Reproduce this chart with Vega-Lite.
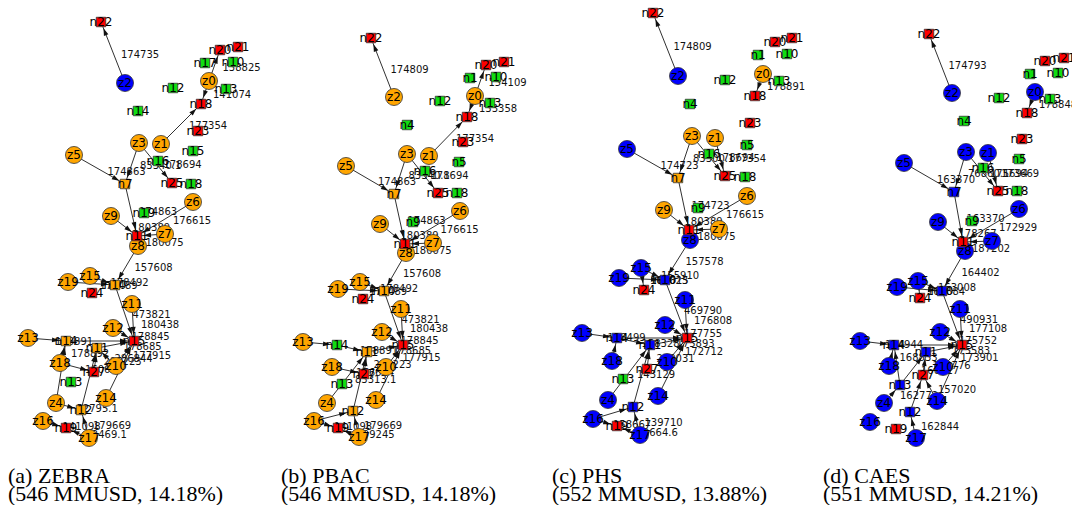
{
"$schema": "https://vega.github.io/schema/vega-lite/v6.json",
"padding": 0,
"spacing": 0,
"bounds": "flush",
"resolve": {"scale": {"x": "independent", "y": "independent"}},
"config": {
  "view": {"stroke": null},
  "axis": {"disable": true},
  "title": {"orient": "bottom", "anchor": "start", "font": "Liberation Serif", "fontSize": 22, "fontWeight": "normal", "color": "black", "subtitleFont": "Liberation Serif", "subtitleFontSize": 22, "subtitleColor": "black", "subtitlePadding": -4, "offset": 11}
},
"datasets": {
"na": [
{"id":"z2","x":125,"y":83,"k":"z","c":"b","t":"z2"},
{"id":"z0","x":209,"y":81,"k":"z","c":"o","t":"z0"},
{"id":"z3","x":139,"y":143,"k":"z","c":"o","t":"z3"},
{"id":"z1","x":161,"y":144,"k":"z","c":"o","t":"z1"},
{"id":"z5","x":74,"y":155,"k":"z","c":"o","t":"z5"},
{"id":"z6","x":193,"y":202,"k":"z","c":"o","t":"z6"},
{"id":"z9","x":111,"y":216,"k":"z","c":"o","t":"z9"},
{"id":"z7","x":165,"y":234,"k":"z","c":"o","t":"z7"},
{"id":"z8","x":138,"y":246,"k":"z","c":"o","t":"z8"},
{"id":"z15","x":90,"y":276,"k":"z","c":"o","t":"z15"},
{"id":"z19","x":68,"y":282,"k":"z","c":"o","t":"z19"},
{"id":"z11","x":132,"y":304,"k":"z","c":"o","t":"z11"},
{"id":"z12","x":113,"y":328,"k":"z","c":"o","t":"z12"},
{"id":"z13","x":28,"y":338,"k":"z","c":"o","t":"z13"},
{"id":"z18","x":60,"y":363,"k":"z","c":"o","t":"z18"},
{"id":"z10","x":116,"y":366,"k":"z","c":"o","t":"z10"},
{"id":"z14","x":106,"y":398,"k":"z","c":"o","t":"z14"},
{"id":"z4","x":56,"y":403,"k":"z","c":"o","t":"z4"},
{"id":"z16","x":43,"y":421,"k":"z","c":"o","t":"z16"},
{"id":"z17","x":89,"y":438,"k":"z","c":"o","t":"z17"},
{"id":"n22","x":101,"y":22,"k":"n","c":"r","t":"n22"},
{"id":"n20","x":220,"y":50,"k":"n","c":"r","t":"n20"},
{"id":"n21","x":238,"y":47,"k":"n","c":"r","t":"n21"},
{"id":"g1","x":205,"y":63,"k":"n","c":"g","t":"n17"},
{"id":"g10","x":233,"y":62,"k":"n","c":"g","t":"n10"},
{"id":"g13","x":226,"y":89,"k":"n","c":"g","t":"n13"},
{"id":"g12","x":173,"y":88,"k":"n","c":"g","t":"n12"},
{"id":"n18","x":201,"y":104,"k":"n","c":"r","t":"n18"},
{"id":"g4","x":138,"y":111,"k":"n","c":"g","t":"n14"},
{"id":"n23","x":198,"y":131,"k":"n","c":"r","t":"n23"},
{"id":"g5","x":193,"y":151,"k":"n","c":"g","t":"n15"},
{"id":"g16","x":158,"y":161,"k":"n","c":"g","t":"n16"},
{"id":"n7","x":125,"y":184,"k":"n","c":"o","t":"n7"},
{"id":"n25","x":172,"y":183,"k":"n","c":"r","t":"n25"},
{"id":"g8","x":191,"y":184,"k":"n","c":"g","t":"n18"},
{"id":"g9","x":144,"y":213,"k":"n","c":"g","t":"n19"},
{"id":"n6","x":137,"y":236,"k":"n","c":"r","t":"n11"},
{"id":"b10","x":115,"y":285,"k":"n","c":"o","t":"n10"},
{"id":"n24","x":92,"y":293,"k":"n","c":"r","t":"n24"},
{"id":"n5","x":134,"y":341,"k":"n","c":"r","t":"n15"},
{"id":"b14","x":66,"y":341,"k":"n","c":"o","t":"n14"},
{"id":"b1","x":97,"y":348,"k":"n","c":"o","t":"n11"},
{"id":"n27","x":94,"y":372,"k":"n","c":"r","t":"n27"},
{"id":"g3","x":71,"y":382,"k":"n","c":"g","t":"n13"},
{"id":"b2","x":81,"y":410,"k":"n","c":"o","t":"n12"},
{"id":"n9","x":66,"y":428,"k":"n","c":"r","t":"n19"}
],
"ea": [
{"s":"z2","t":"n22","w":"174735"},
{"s":"z0","t":"n20","w":"138825"},
{"s":"z0","t":"n18","w":"141074"},
{"s":"z1","t":"n18","w":"177354"},
{"s":"z5","t":"n7","w":"174863"},
{"s":"z3","t":"n7","w":"83340.1"},
{"s":"z3","t":"n25","w":"178694"},
{"s":"n7","t":"n6","w":"174863"},
{"s":"z9","t":"n6","w":"180389"},
{"s":"z6","t":"n6","w":"176615"},
{"s":"z7","t":"n6","w":""},
{"s":"z8","t":"n6","w":"180075"},
{"s":"z8","t":"b10","w":"157608"},
{"s":"z15","t":"b10","w":"178492"},
{"s":"z19","t":"b10","w":"178489"},
{"s":"b10","t":"n5","w":"473821"},
{"s":"z11","t":"n5","w":"180438"},
{"s":"z12","t":"n5","w":"178845"},
{"s":"b14","t":"n5","w":""},
{"s":"b1","t":"n5","w":"178685"},
{"s":"z10","t":"n5","w":"177915"},
{"s":"z14","t":"n5","w":""},
{"s":"z13","t":"b14","w":"178891"},
{"s":"z18","t":"b14","w":"178892"},
{"s":"z4","t":"b14","w":""},
{"s":"z18","t":"n27","w":"160637"},
{"s":"n27","t":"b1","w":"285223"},
{"s":"z10","t":"b1","w":"286844"},
{"s":"b2","t":"b1","w":""},
{"s":"z4","t":"b2","w":"52795.1"},
{"s":"z17","t":"b2","w":"179669"},
{"s":"z16","t":"n9","w":"141098"},
{"s":"z17","t":"n9","w":"72469.1"}
],
"nb": [
{"id":"z2","x":394,"y":97,"k":"z","c":"o","t":"z2"},
{"id":"z0","x":475,"y":96,"k":"z","c":"o","t":"z0"},
{"id":"z3","x":407,"y":154,"k":"z","c":"o","t":"z3"},
{"id":"z1","x":429,"y":156,"k":"z","c":"o","t":"z1"},
{"id":"z5","x":346,"y":166,"k":"z","c":"o","t":"z5"},
{"id":"z6","x":460,"y":211,"k":"z","c":"o","t":"z6"},
{"id":"z9","x":380,"y":224,"k":"z","c":"o","t":"z9"},
{"id":"z7","x":433,"y":243,"k":"z","c":"o","t":"z7"},
{"id":"z8","x":406,"y":253,"k":"z","c":"o","t":"z8"},
{"id":"z15","x":360,"y":282,"k":"z","c":"o","t":"z15"},
{"id":"z19","x":338,"y":289,"k":"z","c":"o","t":"z19"},
{"id":"z11","x":401,"y":309,"k":"z","c":"o","t":"z11"},
{"id":"z12","x":382,"y":332,"k":"z","c":"o","t":"z12"},
{"id":"z13","x":303,"y":342,"k":"z","c":"o","t":"z13"},
{"id":"z18","x":332,"y":367,"k":"z","c":"o","t":"z18"},
{"id":"z10","x":386,"y":367,"k":"z","c":"o","t":"z10"},
{"id":"z14","x":376,"y":400,"k":"z","c":"o","t":"z14"},
{"id":"z4","x":327,"y":403,"k":"z","c":"o","t":"z4"},
{"id":"z16","x":314,"y":421,"k":"z","c":"o","t":"z16"},
{"id":"z17","x":359,"y":437,"k":"z","c":"o","t":"z17"},
{"id":"n22","x":371,"y":38,"k":"n","c":"r","t":"n22"},
{"id":"n20","x":486,"y":65,"k":"n","c":"r","t":"n20"},
{"id":"n21","x":504,"y":62,"k":"n","c":"r","t":"n21"},
{"id":"g1","x":470,"y":78,"k":"n","c":"g","t":"n1"},
{"id":"g10","x":496,"y":77,"k":"n","c":"g","t":"n10"},
{"id":"g13","x":490,"y":103,"k":"n","c":"g","t":"n13"},
{"id":"g12","x":440,"y":101,"k":"n","c":"g","t":"n12"},
{"id":"n18","x":467,"y":117,"k":"n","c":"r","t":"n18"},
{"id":"g4","x":407,"y":125,"k":"n","c":"g","t":"n4"},
{"id":"n23","x":463,"y":142,"k":"n","c":"r","t":"n23"},
{"id":"g5","x":459,"y":162,"k":"n","c":"g","t":"n5"},
{"id":"g16","x":425,"y":171,"k":"n","c":"g","t":"n16"},
{"id":"n7","x":394,"y":194,"k":"n","c":"o","t":"n7"},
{"id":"n25","x":438,"y":193,"k":"n","c":"r","t":"n25"},
{"id":"g8","x":457,"y":193,"k":"n","c":"g","t":"n18"},
{"id":"g9","x":413,"y":222,"k":"n","c":"g","t":"n9"},
{"id":"n6","x":405,"y":244,"k":"n","c":"r","t":"n11"},
{"id":"b10","x":384,"y":291,"k":"n","c":"o","t":"n10"},
{"id":"n24","x":363,"y":299,"k":"n","c":"r","t":"n24"},
{"id":"n5","x":403,"y":345,"k":"n","c":"r","t":"n15"},
{"id":"b14","x":337,"y":345,"k":"n","c":"g","t":"n14"},
{"id":"b1","x":367,"y":352,"k":"n","c":"o","t":"n11"},
{"id":"n27","x":364,"y":374,"k":"n","c":"r","t":"n27"},
{"id":"g3","x":342,"y":384,"k":"n","c":"g","t":"n13"},
{"id":"b2","x":353,"y":411,"k":"n","c":"o","t":"n12"},
{"id":"n9","x":338,"y":428,"k":"n","c":"r","t":"n19"}
],
"eb": [
{"s":"z2","t":"n22","w":"174809"},
{"s":"z0","t":"n20","w":"154109"},
{"s":"z0","t":"n18","w":"133358"},
{"s":"z1","t":"n18","w":"177354"},
{"s":"z5","t":"n7","w":"174863"},
{"s":"z3","t":"n7","w":"83340.1"},
{"s":"z3","t":"n25","w":"178694"},
{"s":"n7","t":"n6","w":"174863"},
{"s":"z9","t":"n6","w":"180389"},
{"s":"z6","t":"n6","w":"176615"},
{"s":"z7","t":"n6","w":""},
{"s":"z8","t":"n6","w":"180075"},
{"s":"z8","t":"b10","w":"157608"},
{"s":"z15","t":"b10","w":"178492"},
{"s":"z19","t":"b10","w":"178489"},
{"s":"b10","t":"n5","w":"473821"},
{"s":"z11","t":"n5","w":"180438"},
{"s":"z12","t":"n5","w":"178845"},
{"s":"b1","t":"n5","w":"178685"},
{"s":"z10","t":"n5","w":"177915"},
{"s":"z14","t":"n5","w":""},
{"s":"z13","t":"b14","w":""},
{"s":"b14","t":"b1","w":"178891"},
{"s":"z18","t":"n27","w":"176624"},
{"s":"n27","t":"b1","w":"285223"},
{"s":"z4","t":"b1","w":"83313.1"},
{"s":"b2","t":"b1","w":""},
{"s":"z16","t":"b2","w":""},
{"s":"z17","t":"b2","w":"179669"},
{"s":"z16","t":"n9","w":"141098"},
{"s":"z17","t":"n9","w":"109245"}
],
"nc": [
{"id":"z2","x":678,"y":76,"k":"z","c":"b","t":"z2"},
{"id":"z0","x":763,"y":74,"k":"z","c":"o","t":"z0"},
{"id":"z3","x":692,"y":136,"k":"z","c":"o","t":"z3"},
{"id":"z1","x":715,"y":138,"k":"z","c":"o","t":"z1"},
{"id":"z5","x":627,"y":149,"k":"z","c":"b","t":"z5"},
{"id":"z6","x":747,"y":196,"k":"z","c":"o","t":"z6"},
{"id":"z9","x":664,"y":210,"k":"z","c":"o","t":"z9"},
{"id":"z7","x":719,"y":229,"k":"z","c":"o","t":"z7"},
{"id":"z8","x":690,"y":240,"k":"z","c":"b","t":"z8"},
{"id":"z15","x":641,"y":268,"k":"z","c":"b","t":"z15"},
{"id":"z19","x":619,"y":278,"k":"z","c":"b","t":"z19"},
{"id":"z11","x":685,"y":300,"k":"z","c":"b","t":"z11"},
{"id":"z12","x":665,"y":325,"k":"z","c":"b","t":"z12"},
{"id":"z13","x":582,"y":333,"k":"z","c":"b","t":"z13"},
{"id":"z18","x":612,"y":361,"k":"z","c":"b","t":"z18"},
{"id":"z10","x":667,"y":362,"k":"z","c":"b","t":"z10"},
{"id":"z14","x":658,"y":396,"k":"z","c":"b","t":"z14"},
{"id":"z4","x":608,"y":400,"k":"z","c":"b","t":"z4"},
{"id":"z16","x":593,"y":419,"k":"z","c":"b","t":"z16"},
{"id":"z17","x":640,"y":435,"k":"z","c":"b","t":"z17"},
{"id":"n22","x":653,"y":13,"k":"n","c":"r","t":"n22"},
{"id":"n20","x":775,"y":42,"k":"n","c":"r","t":"n20"},
{"id":"n21","x":792,"y":38,"k":"n","c":"r","t":"n21"},
{"id":"g1","x":758,"y":55,"k":"n","c":"g","t":"n1"},
{"id":"g10","x":787,"y":54,"k":"n","c":"g","t":"n10"},
{"id":"g13","x":779,"y":81,"k":"n","c":"g","t":"n13"},
{"id":"g12","x":725,"y":80,"k":"n","c":"g","t":"n12"},
{"id":"n18","x":755,"y":96,"k":"n","c":"r","t":"n18"},
{"id":"g4","x":690,"y":104,"k":"n","c":"g","t":"n4"},
{"id":"n23","x":750,"y":123,"k":"n","c":"r","t":"n23"},
{"id":"g5","x":747,"y":145,"k":"n","c":"g","t":"n5"},
{"id":"g16","x":709,"y":154,"k":"n","c":"g","t":"n16"},
{"id":"n7","x":678,"y":178,"k":"n","c":"o","t":"n7"},
{"id":"n25","x":725,"y":176,"k":"n","c":"r","t":"n25"},
{"id":"g8","x":745,"y":177,"k":"n","c":"g","t":"n18"},
{"id":"g9","x":698,"y":208,"k":"n","c":"g","t":"n9"},
{"id":"n6","x":689,"y":230,"k":"n","c":"r","t":"n11"},
{"id":"b10","x":665,"y":280,"k":"n","c":"b","t":"n10"},
{"id":"n24","x":644,"y":290,"k":"n","c":"r","t":"n24"},
{"id":"n5","x":687,"y":338,"k":"n","c":"r","t":"n15"},
{"id":"b14","x":617,"y":338,"k":"n","c":"b","t":"n14"},
{"id":"b1","x":650,"y":345,"k":"n","c":"b","t":"n11"},
{"id":"n27","x":647,"y":369,"k":"n","c":"r","t":"n27"},
{"id":"g3","x":623,"y":379,"k":"n","c":"g","t":"n13"},
{"id":"b2","x":633,"y":407,"k":"n","c":"b","t":"n12"},
{"id":"n9","x":617,"y":426,"k":"n","c":"r","t":"n19"}
],
"ec": [
{"s":"z2","t":"n22","w":"174809"},
{"s":"z0","t":"n18","w":"178891"},
{"s":"z5","t":"n7","w":"174723"},
{"s":"z3","t":"n7","w":"83300.1"},
{"s":"z3","t":"n25","w":"178694"},
{"s":"z1","t":"n25","w":"177354"},
{"s":"n7","t":"n6","w":"174723"},
{"s":"z9","t":"n6","w":"180389"},
{"s":"z6","t":"n6","w":"176615"},
{"s":"z7","t":"n6","w":""},
{"s":"z8","t":"n6","w":"180075"},
{"s":"z8","t":"b10","w":"157578"},
{"s":"z15","t":"b10","w":"155910"},
{"s":"z19","t":"b10","w":"161023"},
{"s":"z15","t":"n24","w":"160615"},
{"s":"b10","t":"n5","w":"469790"},
{"s":"z11","t":"n5","w":"176808"},
{"s":"z12","t":"n5","w":"177755"},
{"s":"b1","t":"n5","w":"175893"},
{"s":"z10","t":"n5","w":"172712"},
{"s":"z14","t":"n5","w":""},
{"s":"z13","t":"b14","w":"158499"},
{"s":"b14","t":"n5","w":""},
{"s":"z18","t":"b14","w":""},
{"s":"b14","t":"b1","w":"158328"},
{"s":"n27","t":"b1","w":"280031"},
{"s":"z4","t":"b1","w":"143129"},
{"s":"b2","t":"b1","w":""},
{"s":"z16","t":"b2","w":""},
{"s":"z17","t":"b2","w":"139710"},
{"s":"z17","t":"n9","w":"33664.6"},
{"s":"z16","t":"n9","w":"158667"}
],
"nd": [
{"id":"z2","x":952,"y":93,"k":"z","c":"b","t":"z2"},
{"id":"z0","x":1035,"y":92,"k":"z","c":"b","t":"z0"},
{"id":"z3","x":966,"y":152,"k":"z","c":"b","t":"z3"},
{"id":"z1","x":988,"y":153,"k":"z","c":"b","t":"z1"},
{"id":"z5","x":904,"y":163,"k":"z","c":"b","t":"z5"},
{"id":"z6","x":1019,"y":209,"k":"z","c":"b","t":"z6"},
{"id":"z9","x":938,"y":222,"k":"z","c":"b","t":"z9"},
{"id":"z7","x":992,"y":241,"k":"z","c":"b","t":"z7"},
{"id":"z8","x":965,"y":251,"k":"z","c":"b","t":"z8"},
{"id":"z15","x":918,"y":281,"k":"z","c":"b","t":"z15"},
{"id":"z19","x":897,"y":287,"k":"z","c":"b","t":"z19"},
{"id":"z11","x":960,"y":309,"k":"z","c":"b","t":"z11"},
{"id":"z12","x":940,"y":332,"k":"z","c":"b","t":"z12"},
{"id":"z13","x":860,"y":341,"k":"z","c":"b","t":"z13"},
{"id":"z18","x":889,"y":366,"k":"z","c":"b","t":"z18"},
{"id":"z10","x":943,"y":367,"k":"z","c":"b","t":"z10"},
{"id":"z14","x":937,"y":401,"k":"z","c":"b","t":"z14"},
{"id":"z4","x":884,"y":403,"k":"z","c":"b","t":"z4"},
{"id":"z16","x":870,"y":422,"k":"z","c":"b","t":"z16"},
{"id":"z17","x":916,"y":438,"k":"z","c":"b","t":"z17"},
{"id":"n22","x":929,"y":34,"k":"n","c":"r","t":"n22"},
{"id":"n20","x":1045,"y":61,"k":"n","c":"r","t":"n20"},
{"id":"n21","x":1064,"y":58,"k":"n","c":"r","t":"n21"},
{"id":"g1","x":1030,"y":74,"k":"n","c":"g","t":"n1"},
{"id":"g10","x":1058,"y":73,"k":"n","c":"g","t":"n10"},
{"id":"g13","x":1050,"y":99,"k":"n","c":"g","t":"n13"},
{"id":"g12","x":999,"y":98,"k":"n","c":"g","t":"n12"},
{"id":"n18","x":1027,"y":113,"k":"n","c":"r","t":"n18"},
{"id":"g4","x":964,"y":121,"k":"n","c":"g","t":"n4"},
{"id":"n23","x":1022,"y":139,"k":"n","c":"r","t":"n23"},
{"id":"g5","x":1019,"y":159,"k":"n","c":"g","t":"n5"},
{"id":"g16","x":983,"y":168,"k":"n","c":"g","t":"n16"},
{"id":"n7","x":954,"y":192,"k":"n","c":"b","t":"n7"},
{"id":"n25","x":998,"y":191,"k":"n","c":"r","t":"n25"},
{"id":"g8","x":1017,"y":191,"k":"n","c":"g","t":"n18"},
{"id":"g9","x":972,"y":221,"k":"n","c":"g","t":"n9"},
{"id":"n6","x":963,"y":242,"k":"n","c":"r","t":"n11"},
{"id":"b10","x":942,"y":291,"k":"n","c":"b","t":"n10"},
{"id":"n24","x":920,"y":298,"k":"n","c":"r","t":"n24"},
{"id":"n5","x":962,"y":345,"k":"n","c":"r","t":"n15"},
{"id":"b14","x":894,"y":345,"k":"n","c":"b","t":"n14"},
{"id":"b1","x":926,"y":352,"k":"n","c":"b","t":"n11"},
{"id":"n27","x":923,"y":375,"k":"n","c":"r","t":"n27"},
{"id":"g3","x":900,"y":385,"k":"n","c":"b","t":"n13"},
{"id":"b2","x":910,"y":412,"k":"n","c":"b","t":"n12"},
{"id":"n9","x":896,"y":429,"k":"n","c":"r","t":"n19"}
],
"ed": [
{"s":"z2","t":"n22","w":"174793"},
{"s":"z0","t":"n18","w":"178848"},
{"s":"z5","t":"n7","w":"163370"},
{"s":"z3","t":"n7","w":"76860.1"},
{"s":"z3","t":"n25","w":"175694"},
{"s":"z1","t":"n25","w":"173669"},
{"s":"n7","t":"n6","w":"163370"},
{"s":"z9","t":"n6","w":"178267"},
{"s":"z6","t":"n6","w":"172929"},
{"s":"z7","t":"n6","w":""},
{"s":"z8","t":"n6","w":"187202"},
{"s":"z8","t":"b10","w":"164402"},
{"s":"z15","t":"b10","w":"163008"},
{"s":"z19","t":"b10","w":""},
{"s":"z15","t":"n24","w":"162884"},
{"s":"b10","t":"n5","w":"490931"},
{"s":"z11","t":"n5","w":"177108"},
{"s":"z12","t":"n5","w":"175752"},
{"s":"b1","t":"n5","w":"175583"},
{"s":"z10","t":"n5","w":"173901"},
{"s":"z14","t":"n5","w":""},
{"s":"z13","t":"b14","w":"164944"},
{"s":"b14","t":"n5","w":""},
{"s":"z18","t":"b14","w":"168833"},
{"s":"g3","t":"b14","w":""},
{"s":"n27","t":"b1","w":"162776"},
{"s":"z14","t":"n27","w":"157020"},
{"s":"z4","t":"g3","w":"162772"},
{"s":"g3","t":"b1","w":"160017"},
{"s":"b2","t":"n27","w":""},
{"s":"z17","t":"b2","w":"162844"}
]
},
"hconcat": [
{
"width": 268, "height": 455,
"title": {"text": "(a) ZEBRA", "subtitle": "(546 MMUSD, 14.18%)", "dx": 8},
"layer": [
{"data": {"name": "ea"},
 "transform": [
  {"lookup": "s", "from": {"data": {"name": "na"}, "key": "id", "fields": ["x", "y"]}, "as": ["sx", "sy"]},
  {"lookup": "t", "from": {"data": {"name": "na"}, "key": "id", "fields": ["x", "y"]}, "as": ["tx", "ty"]},
  {"calculate": "datum.tx - datum.sx", "as": "ddx"},
  {"calculate": "datum.ty - datum.sy", "as": "ddy"},
  {"calculate": "sqrt(datum.ddx*datum.ddx + datum.ddy*datum.ddy)", "as": "len"},
  {"calculate": "datum.tx - 11*datum.ddx/datum.len", "as": "ax"},
  {"calculate": "datum.ty - 11*datum.ddy/datum.len", "as": "ay"},
  {"calculate": "atan2(datum.ddx, -datum.ddy)*180/PI", "as": "ang"},
  {"calculate": "(datum.sx + datum.tx)/2", "as": "mx"},
  {"calculate": "(datum.sy + datum.ty)/2", "as": "my"}
 ],
 "layer": [
  {"mark": {"type": "rule", "color": "#1a1a1a", "strokeWidth": 0.9},
   "encoding": {"x": {"field": "sx", "type": "quantitative", "scale": {"domain": [0, 268]}}, "y": {"field": "sy", "type": "quantitative", "scale": {"domain": [0, 455], "reverse": true}}, "x2": {"field": "tx"}, "y2": {"field": "ty"}}},
  {"mark": {"type": "point", "shape": "M0,-1L0.55,0.7L-0.55,0.7Z", "filled": true, "color": "#111", "opacity": 1, "size": 75},
   "encoding": {"x": {"field": "ax", "type": "quantitative", "scale": {"domain": [0, 268]}}, "y": {"field": "ay", "type": "quantitative", "scale": {"domain": [0, 455], "reverse": true}}, "angle": {"field": "ang", "type": "quantitative", "scale": null}}},
  {"mark": {"type": "text", "align": "left", "baseline": "middle", "dx": 8, "dy": 2, "font": "DejaVu Sans", "fontSize": 10, "color": "#111"},
   "encoding": {"x": {"field": "mx", "type": "quantitative", "scale": {"domain": [0, 268]}}, "y": {"field": "my", "type": "quantitative", "scale": {"domain": [0, 455], "reverse": true}}, "text": {"field": "w"}}}
 ]},
{"data": {"name": "na"},
 "layer": [
  {"mark": {"type": "point", "filled": true, "opacity": 1, "stroke": "#333", "strokeWidth": 0.8},
   "encoding": {"x": {"field": "x", "type": "quantitative", "scale": {"domain": [0, 268]}}, "y": {"field": "y", "type": "quantitative", "scale": {"domain": [0, 455], "reverse": true}},
    "color": {"field": "c", "type": "nominal", "scale": {"domain": ["o", "b", "r", "g"], "range": ["#FFA500", "#0000FF", "#FF0000", "#11DD11"]}, "legend": null},
    "shape": {"field": "k", "type": "nominal", "scale": {"domain": ["z", "n"], "range": ["circle", "square"]}, "legend": null},
    "size": {"field": "k", "type": "ordinal", "scale": {"domain": ["z", "n"], "range": [290, 90]}, "legend": null}}},
  {"mark": {"type": "text", "font": "DejaVu Sans", "fontSize": 12, "color": "black", "baseline": "middle", "align": "center"},
   "encoding": {"x": {"field": "x", "type": "quantitative", "scale": {"domain": [0, 268]}}, "y": {"field": "y", "type": "quantitative", "scale": {"domain": [0, 455], "reverse": true}}, "text": {"field": "t"}}}
 ]}
]
},
{
"width": 268, "height": 455,
"title": {"text": "(b) PBAC", "subtitle": "(546 MMUSD, 14.18%)", "dx": 13},
"layer": [
{"data": {"name": "eb"},
 "transform": [
  {"lookup": "s", "from": {"data": {"name": "nb"}, "key": "id", "fields": ["x", "y"]}, "as": ["sx", "sy"]},
  {"lookup": "t", "from": {"data": {"name": "nb"}, "key": "id", "fields": ["x", "y"]}, "as": ["tx", "ty"]},
  {"calculate": "datum.tx - datum.sx", "as": "ddx"},
  {"calculate": "datum.ty - datum.sy", "as": "ddy"},
  {"calculate": "sqrt(datum.ddx*datum.ddx + datum.ddy*datum.ddy)", "as": "len"},
  {"calculate": "datum.tx - 11*datum.ddx/datum.len", "as": "ax"},
  {"calculate": "datum.ty - 11*datum.ddy/datum.len", "as": "ay"},
  {"calculate": "atan2(datum.ddx, -datum.ddy)*180/PI", "as": "ang"},
  {"calculate": "(datum.sx + datum.tx)/2", "as": "mx"},
  {"calculate": "(datum.sy + datum.ty)/2", "as": "my"}
 ],
 "layer": [
  {"mark": {"type": "rule", "color": "#1a1a1a", "strokeWidth": 0.9},
   "encoding": {"x": {"field": "sx", "type": "quantitative", "scale": {"domain": [268, 536]}}, "y": {"field": "sy", "type": "quantitative", "scale": {"domain": [0, 455], "reverse": true}}, "x2": {"field": "tx"}, "y2": {"field": "ty"}}},
  {"mark": {"type": "point", "shape": "M0,-1L0.55,0.7L-0.55,0.7Z", "filled": true, "color": "#111", "opacity": 1, "size": 75},
   "encoding": {"x": {"field": "ax", "type": "quantitative", "scale": {"domain": [268, 536]}}, "y": {"field": "ay", "type": "quantitative", "scale": {"domain": [0, 455], "reverse": true}}, "angle": {"field": "ang", "type": "quantitative", "scale": null}}},
  {"mark": {"type": "text", "align": "left", "baseline": "middle", "dx": 8, "dy": 2, "font": "DejaVu Sans", "fontSize": 10, "color": "#111"},
   "encoding": {"x": {"field": "mx", "type": "quantitative", "scale": {"domain": [268, 536]}}, "y": {"field": "my", "type": "quantitative", "scale": {"domain": [0, 455], "reverse": true}}, "text": {"field": "w"}}}
 ]},
{"data": {"name": "nb"},
 "layer": [
  {"mark": {"type": "point", "filled": true, "opacity": 1, "stroke": "#333", "strokeWidth": 0.8},
   "encoding": {"x": {"field": "x", "type": "quantitative", "scale": {"domain": [268, 536]}}, "y": {"field": "y", "type": "quantitative", "scale": {"domain": [0, 455], "reverse": true}},
    "color": {"field": "c", "type": "nominal", "scale": {"domain": ["o", "b", "r", "g"], "range": ["#FFA500", "#0000FF", "#FF0000", "#11DD11"]}, "legend": null},
    "shape": {"field": "k", "type": "nominal", "scale": {"domain": ["z", "n"], "range": ["circle", "square"]}, "legend": null},
    "size": {"field": "k", "type": "ordinal", "scale": {"domain": ["z", "n"], "range": [290, 90]}, "legend": null}}},
  {"mark": {"type": "text", "font": "DejaVu Sans", "fontSize": 12, "color": "black", "baseline": "middle", "align": "center"},
   "encoding": {"x": {"field": "x", "type": "quantitative", "scale": {"domain": [268, 536]}}, "y": {"field": "y", "type": "quantitative", "scale": {"domain": [0, 455], "reverse": true}}, "text": {"field": "t"}}}
 ]}
]
},
{
"width": 268, "height": 455,
"title": {"text": "(c) PHS", "subtitle": "(552 MMUSD, 13.88%)", "dx": 16},
"layer": [
{"data": {"name": "ec"},
 "transform": [
  {"lookup": "s", "from": {"data": {"name": "nc"}, "key": "id", "fields": ["x", "y"]}, "as": ["sx", "sy"]},
  {"lookup": "t", "from": {"data": {"name": "nc"}, "key": "id", "fields": ["x", "y"]}, "as": ["tx", "ty"]},
  {"calculate": "datum.tx - datum.sx", "as": "ddx"},
  {"calculate": "datum.ty - datum.sy", "as": "ddy"},
  {"calculate": "sqrt(datum.ddx*datum.ddx + datum.ddy*datum.ddy)", "as": "len"},
  {"calculate": "datum.tx - 11*datum.ddx/datum.len", "as": "ax"},
  {"calculate": "datum.ty - 11*datum.ddy/datum.len", "as": "ay"},
  {"calculate": "atan2(datum.ddx, -datum.ddy)*180/PI", "as": "ang"},
  {"calculate": "(datum.sx + datum.tx)/2", "as": "mx"},
  {"calculate": "(datum.sy + datum.ty)/2", "as": "my"}
 ],
 "layer": [
  {"mark": {"type": "rule", "color": "#1a1a1a", "strokeWidth": 0.9},
   "encoding": {"x": {"field": "sx", "type": "quantitative", "scale": {"domain": [536, 804]}}, "y": {"field": "sy", "type": "quantitative", "scale": {"domain": [0, 455], "reverse": true}}, "x2": {"field": "tx"}, "y2": {"field": "ty"}}},
  {"mark": {"type": "point", "shape": "M0,-1L0.55,0.7L-0.55,0.7Z", "filled": true, "color": "#111", "opacity": 1, "size": 75},
   "encoding": {"x": {"field": "ax", "type": "quantitative", "scale": {"domain": [536, 804]}}, "y": {"field": "ay", "type": "quantitative", "scale": {"domain": [0, 455], "reverse": true}}, "angle": {"field": "ang", "type": "quantitative", "scale": null}}},
  {"mark": {"type": "text", "align": "left", "baseline": "middle", "dx": 8, "dy": 2, "font": "DejaVu Sans", "fontSize": 10, "color": "#111"},
   "encoding": {"x": {"field": "mx", "type": "quantitative", "scale": {"domain": [536, 804]}}, "y": {"field": "my", "type": "quantitative", "scale": {"domain": [0, 455], "reverse": true}}, "text": {"field": "w"}}}
 ]},
{"data": {"name": "nc"},
 "layer": [
  {"mark": {"type": "point", "filled": true, "opacity": 1, "stroke": "#333", "strokeWidth": 0.8},
   "encoding": {"x": {"field": "x", "type": "quantitative", "scale": {"domain": [536, 804]}}, "y": {"field": "y", "type": "quantitative", "scale": {"domain": [0, 455], "reverse": true}},
    "color": {"field": "c", "type": "nominal", "scale": {"domain": ["o", "b", "r", "g"], "range": ["#FFA500", "#0000FF", "#FF0000", "#11DD11"]}, "legend": null},
    "shape": {"field": "k", "type": "nominal", "scale": {"domain": ["z", "n"], "range": ["circle", "square"]}, "legend": null},
    "size": {"field": "k", "type": "ordinal", "scale": {"domain": ["z", "n"], "range": [290, 90]}, "legend": null}}},
  {"mark": {"type": "text", "font": "DejaVu Sans", "fontSize": 12, "color": "black", "baseline": "middle", "align": "center"},
   "encoding": {"x": {"field": "x", "type": "quantitative", "scale": {"domain": [536, 804]}}, "y": {"field": "y", "type": "quantitative", "scale": {"domain": [0, 455], "reverse": true}}, "text": {"field": "t"}}}
 ]}
]
},
{
"width": 268, "height": 455,
"title": {"text": "(d) CAES", "subtitle": "(551 MMUSD, 14.21%)", "dx": 19},
"layer": [
{"data": {"name": "ed"},
 "transform": [
  {"lookup": "s", "from": {"data": {"name": "nd"}, "key": "id", "fields": ["x", "y"]}, "as": ["sx", "sy"]},
  {"lookup": "t", "from": {"data": {"name": "nd"}, "key": "id", "fields": ["x", "y"]}, "as": ["tx", "ty"]},
  {"calculate": "datum.tx - datum.sx", "as": "ddx"},
  {"calculate": "datum.ty - datum.sy", "as": "ddy"},
  {"calculate": "sqrt(datum.ddx*datum.ddx + datum.ddy*datum.ddy)", "as": "len"},
  {"calculate": "datum.tx - 11*datum.ddx/datum.len", "as": "ax"},
  {"calculate": "datum.ty - 11*datum.ddy/datum.len", "as": "ay"},
  {"calculate": "atan2(datum.ddx, -datum.ddy)*180/PI", "as": "ang"},
  {"calculate": "(datum.sx + datum.tx)/2", "as": "mx"},
  {"calculate": "(datum.sy + datum.ty)/2", "as": "my"}
 ],
 "layer": [
  {"mark": {"type": "rule", "color": "#1a1a1a", "strokeWidth": 0.9},
   "encoding": {"x": {"field": "sx", "type": "quantitative", "scale": {"domain": [804, 1072]}}, "y": {"field": "sy", "type": "quantitative", "scale": {"domain": [0, 455], "reverse": true}}, "x2": {"field": "tx"}, "y2": {"field": "ty"}}},
  {"mark": {"type": "point", "shape": "M0,-1L0.55,0.7L-0.55,0.7Z", "filled": true, "color": "#111", "opacity": 1, "size": 75},
   "encoding": {"x": {"field": "ax", "type": "quantitative", "scale": {"domain": [804, 1072]}}, "y": {"field": "ay", "type": "quantitative", "scale": {"domain": [0, 455], "reverse": true}}, "angle": {"field": "ang", "type": "quantitative", "scale": null}}},
  {"mark": {"type": "text", "align": "left", "baseline": "middle", "dx": 8, "dy": 2, "font": "DejaVu Sans", "fontSize": 10, "color": "#111"},
   "encoding": {"x": {"field": "mx", "type": "quantitative", "scale": {"domain": [804, 1072]}}, "y": {"field": "my", "type": "quantitative", "scale": {"domain": [0, 455], "reverse": true}}, "text": {"field": "w"}}}
 ]},
{"data": {"name": "nd"},
 "layer": [
  {"mark": {"type": "point", "filled": true, "opacity": 1, "stroke": "#333", "strokeWidth": 0.8},
   "encoding": {"x": {"field": "x", "type": "quantitative", "scale": {"domain": [804, 1072]}}, "y": {"field": "y", "type": "quantitative", "scale": {"domain": [0, 455], "reverse": true}},
    "color": {"field": "c", "type": "nominal", "scale": {"domain": ["o", "b", "r", "g"], "range": ["#FFA500", "#0000FF", "#FF0000", "#11DD11"]}, "legend": null},
    "shape": {"field": "k", "type": "nominal", "scale": {"domain": ["z", "n"], "range": ["circle", "square"]}, "legend": null},
    "size": {"field": "k", "type": "ordinal", "scale": {"domain": ["z", "n"], "range": [290, 90]}, "legend": null}}},
  {"mark": {"type": "text", "font": "DejaVu Sans", "fontSize": 12, "color": "black", "baseline": "middle", "align": "center"},
   "encoding": {"x": {"field": "x", "type": "quantitative", "scale": {"domain": [804, 1072]}}, "y": {"field": "y", "type": "quantitative", "scale": {"domain": [0, 455], "reverse": true}}, "text": {"field": "t"}}}
 ]}
]
}
]
}
